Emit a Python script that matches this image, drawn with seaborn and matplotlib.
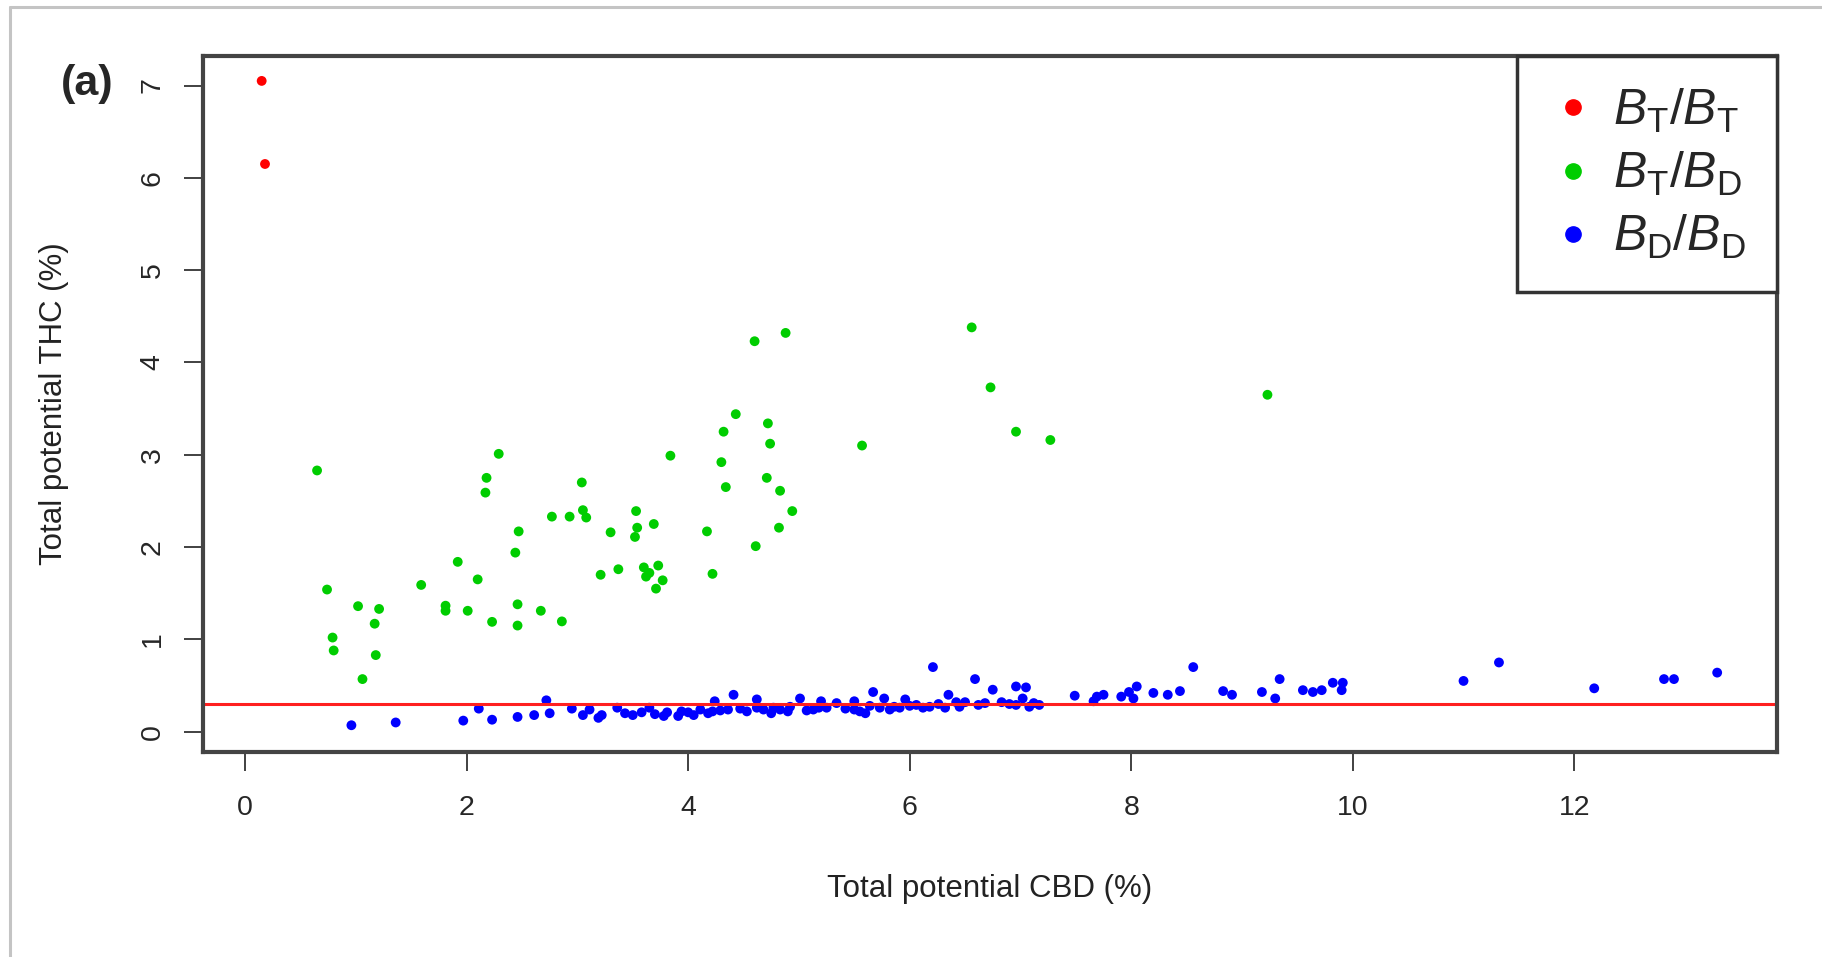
import numpy as np
import pandas as pd
import matplotlib
matplotlib.use("Agg")
import matplotlib.pyplot as plt
import seaborn as sns
from matplotlib.lines import Line2D

# chemotype groups
tt_cbd = [0.15, 0.18]
tt_thc = [7.05, 6.15]

td_cbd = [0.65, 0.74, 0.79, 0.80, 1.02, 1.06, 1.17, 1.21, 1.18, 1.59, 1.81, 1.81, 1.92,
          2.01, 2.10, 2.17, 2.18, 2.23, 2.29, 2.44, 2.47, 2.46, 2.46, 2.67, 2.77, 2.86,
          2.93, 3.04, 3.05, 3.08, 3.21, 3.30, 3.37, 3.53, 3.54, 3.52, 3.69, 3.60, 3.62,
          3.73, 3.77, 3.71, 3.65, 3.84, 4.60, 4.88, 6.56, 6.73, 9.23, 4.43, 4.72, 4.32,
          4.74, 5.57, 6.96, 7.27, 4.30, 4.34, 4.71, 4.83, 4.94, 4.17, 4.82, 4.61, 4.22]
td_thc = [2.83, 1.54, 1.02, 0.88, 1.36, 0.57, 1.17, 1.33, 0.83, 1.59, 1.365, 1.31, 1.84,
          1.31, 1.65, 2.59, 2.75, 1.19, 3.01, 1.94, 2.17, 1.38, 1.15, 1.31, 2.33, 1.195,
          2.33, 2.70, 2.40, 2.32, 1.70, 2.16, 1.76, 2.39, 2.21, 2.11, 2.25, 1.78, 1.68,
          1.80, 1.64, 1.55, 1.72, 2.99, 4.23, 4.32, 4.38, 3.73, 3.65, 3.44, 3.34, 3.25,
          3.12, 3.10, 3.25, 3.16, 2.92, 2.65, 2.75, 2.61, 2.39, 2.17, 2.21, 2.01, 1.71]

dd_cbd = [0.96, 1.36, 1.97, 2.11, 2.23, 2.46, 2.61, 2.72, 2.75,
          2.95, 3.05, 3.11, 3.19, 3.22, 3.36, 3.50, 3.58, 3.65, 3.78, 3.81, 3.91, 3.94,
          4.05, 4.11, 4.18, 4.22, 4.24, 4.36, 4.41, 4.47, 4.62, 4.62, 4.68, 4.75, 4.77,
          4.90, 4.92, 5.01, 5.13, 5.20, 5.25, 5.34, 5.50, 5.50,
          5.55, 5.60, 5.67, 5.73, 5.77, 5.82, 5.91, 5.96, 6.06, 6.12, 6.18, 6.21, 6.32,
          6.35, 6.42, 6.50, 6.59, 6.62, 6.75, 6.83, 6.96, 7.05, 6.96, 7.02, 7.08, 7.17,
          7.49, 7.66, 7.69,
          7.75, 7.91, 7.98, 8.05, 8.02, 8.20, 8.33, 8.44, 8.56, 8.83, 8.91, 9.18, 9.30,
          9.34, 9.55, 9.64, 9.72, 9.82, 9.90, 9.91,
          11.0, 11.32, 12.18, 12.81, 12.90, 13.29,
          3.43, 3.70, 4.00, 4.29, 4.53, 4.83, 5.07, 5.18, 5.42, 5.64, 5.86, 6.00, 6.26,
          6.45, 6.68, 6.90, 7.12]
dd_thc = [0.07, 0.10, 0.12, 0.25, 0.13, 0.16, 0.18, 0.34, 0.20,
          0.25, 0.18, 0.24, 0.15, 0.18, 0.26, 0.18, 0.21, 0.26, 0.17, 0.21, 0.17, 0.22,
          0.18, 0.24, 0.20, 0.22, 0.33, 0.24, 0.40, 0.25, 0.35, 0.26, 0.24, 0.20, 0.26,
          0.22, 0.27, 0.36, 0.24, 0.33, 0.26, 0.31, 0.33, 0.24,
          0.22, 0.20, 0.43, 0.26, 0.36, 0.24, 0.26, 0.35, 0.29, 0.26, 0.27, 0.70, 0.26,
          0.40, 0.32, 0.32, 0.57, 0.29, 0.455, 0.32, 0.49, 0.48, 0.29, 0.36, 0.27, 0.29,
          0.39, 0.33, 0.38,
          0.40, 0.38, 0.43, 0.49, 0.36, 0.42, 0.40, 0.44, 0.70, 0.44, 0.40, 0.43, 0.36,
          0.57, 0.45, 0.43, 0.45, 0.53, 0.45, 0.53,
          0.55, 0.75, 0.47, 0.57, 0.57, 0.64,
          0.20, 0.19, 0.21, 0.23, 0.22, 0.24, 0.23, 0.26, 0.25, 0.28, 0.27, 0.28, 0.30,
          0.27, 0.31, 0.30, 0.31]

groups = ["BT/BT", "BT/BD", "BD/BD"]
labels = [r"$B_\mathrm{T}/B_\mathrm{T}$", r"$B_\mathrm{T}/B_\mathrm{D}$",
          r"$B_\mathrm{D}/B_\mathrm{D}$"]
colors = ["#ff0000", "#00cd00", "#0000ff"]
threshold = 0.3

df = pd.DataFrame({
    "CBD": tt_cbd + td_cbd + dd_cbd,
    "THC": tt_thc + td_thc + dd_thc,
    "group": [groups[0]] * len(tt_cbd) + [groups[1]] * len(td_cbd) + [groups[2]] * len(dd_cbd),
})

sns.set_style("white")
plt.rcParams["font.family"] = ["Liberation Sans", "DejaVu Sans"]
plt.rcParams["mathtext.fontset"] = "custom"
plt.rcParams["mathtext.rm"] = "Liberation Sans"
plt.rcParams["mathtext.it"] = "Liberation Sans:italic"

fig = plt.figure(figsize=(18.22, 9.57), dpi=100)
ax = fig.add_axes([0.1114, 0.2142, 0.8639, 0.7273])

sns.scatterplot(data=df, x="CBD", y="THC", hue="group", hue_order=groups,
                palette=dict(zip(groups, colors)), s=50, linewidth=0, legend=False, ax=ax)
ax.axhline(threshold, color="#ff2020", lw=2.2, zorder=1)

ax.set_xlim(-0.38, 13.83)
ax.set_ylim(-0.22, 7.32)
ax.set_xticks(range(0, 13, 2))
ax.set_yticks(range(0, 8))
ax.tick_params(axis="both", direction="out", length=14, width=1.3, color="#333333",
               labelsize=20.5, left=True, bottom=True)
ax.tick_params(axis="x", pad=17)
ax.tick_params(axis="y", pad=13)
for t in ax.get_yticklabels():
    t.set_rotation(90)
    t.set_va("center")

for sp in ax.spines.values():
    sp.set_color("#444444")
    sp.set_linewidth(3)

ax.set_xlabel("Total potential CBD (%)", fontsize=22.5, color="#222222")
ax.set_ylabel("Total potential THC (%)", fontsize=22.5, color="#222222")
ax.xaxis.set_label_coords(0.5, -0.175)
ax.yaxis.set_label_coords(-0.085, 0.5)

handles = [Line2D([], [], marker="o", ls="", color=c, markersize=11) for c in colors]
leg = ax.legend(handles, labels, loc="upper right", borderaxespad=0, fontsize=36,
                fancybox=False, framealpha=1, edgecolor="#333333", handletextpad=0.3,
                labelspacing=0.3, borderpad=0.62, handlelength=1.0)
leg.get_frame().set_linewidth(2.5)

fig.text(0.048, 0.912, "(a)", fontsize=31, fontweight="bold", ha="center", va="center")

# outer panel frame (left and top only)
fig.add_artist(Line2D([0.0055, 0.0055], [0.0, 0.9927], color="#c4c4c4", lw=2.2,
                      transform=fig.transFigure))
fig.add_artist(Line2D([0.0055, 1.0], [0.9927, 0.9927], color="#c4c4c4", lw=2.2,
                      transform=fig.transFigure))

fig.savefig("out.png", dpi=100)
